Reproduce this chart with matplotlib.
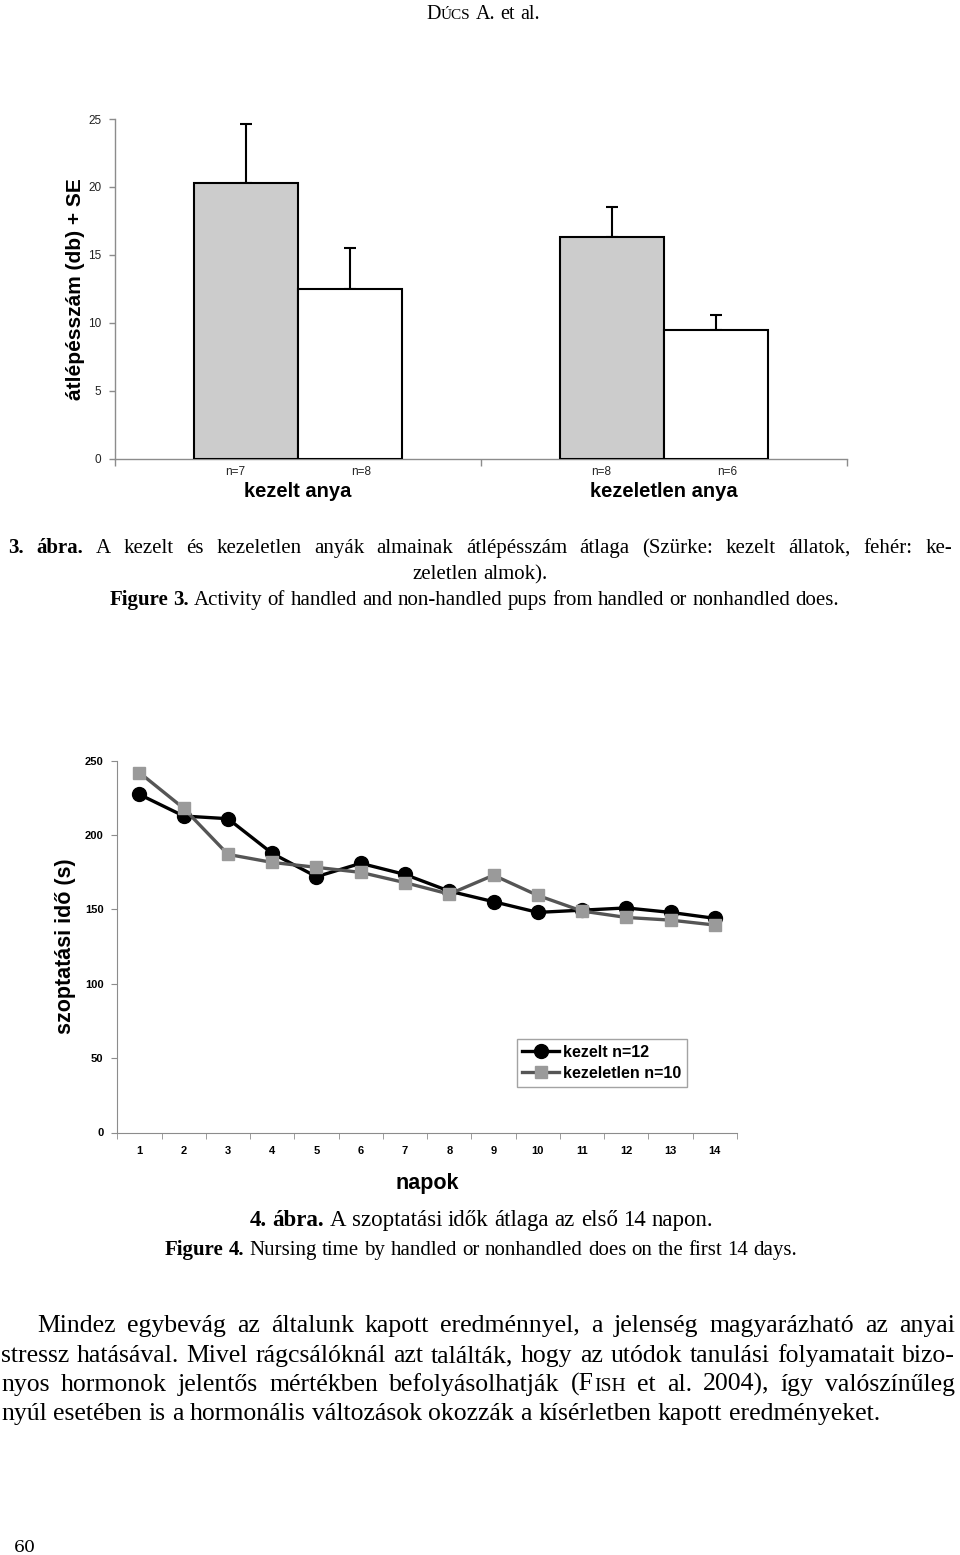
import matplotlib
matplotlib.use('Agg')
import matplotlib.pyplot as plt
import numpy as np

W, H = 960, 1555

# --- Figure 3 data (bar chart) ---
groups = ['kezelt anya', 'kezeletlen anya']
gray_mean = [20.3, 16.3]
gray_se = [4.3, 2.2]
white_mean = [12.5, 9.45]
white_se = [3.0, 1.1]
gray_n = ['n=7', 'n=8']
white_n = ['n=8', 'n=6']
yticks_bar = [0, 5, 10, 15, 20, 25]

# --- Figure 4 data (line chart) ---
days = [1, 2, 3, 4, 5, 6, 7, 8, 9, 10, 11, 12, 13, 14]
kezelt = [227.3, 212.8, 211.0, 187.7, 172.0, 181.0, 173.5, 162.3, 155.2, 148.0, 149.5, 151.0, 148.0, 144.0]
kezeletlen = [242.0, 218.0, 187.0, 181.6, 178.3, 174.9, 168.0, 160.3, 173.0, 159.4, 148.9, 144.6, 142.8, 139.5]
yticks_line = [0, 50, 100, 150, 200, 250]

SERIF = 'Liberation Serif'
SANS = 'Liberation Sans'
AXGRAY = '#8c8c8c'

fig = plt.figure(figsize=(W / 100, H / 100), dpi=100)


def px_axes(left, top, right, bottom):
    # axes box given in page pixels
    return fig.add_axes([left / W, 1 - bottom / H, (right - left) / W, (bottom - top) / H])


def split_tokens(segs):
    toks = []
    for text, weight, size in segs:
        pieces = text.split(' ')
        for i, p in enumerate(pieces):
            if p == '':
                continue
            toks.append((p, weight, size, i > 0 or not toks))
    return toks


def text_line(segs, y, x0, x1, mode='justify', family=SERIF):
    r = fig.canvas.get_renderer()
    toks = split_tokens(segs)
    arts = [fig.text(0, 1 - y / H, t[0], fontsize=t[2], fontweight=t[1], family=family,
                     va='baseline', ha='left') for t in toks]
    widths = [a.get_window_extent(r).width for a in arts]
    ngaps = sum(1 for t in toks[1:] if t[3])
    space = 0.25 * toks[0][2] * 100 / 72
    if mode == 'justify' and ngaps:
        gap = (x1 - x0 - sum(widths)) / ngaps
        x = x0
    else:
        gap = space
        total = sum(widths) + ngaps * gap
        x = (x0 + x1) / 2 - total / 2 if mode == 'center' else x0
    for i, (a, w, t) in enumerate(zip(arts, widths, toks)):
        if i > 0 and t[3]:
            x += gap
        a.set_x(x / W)
        x += w


# ---------------- Figure 3: bar chart ----------------
ax1 = px_axes(115, 119, 847, 458.7)
xg = np.arange(len(groups))
bw = 0.285
ax1.bar(xg - bw / 2, gray_mean, bw, color='#cccccc', edgecolor='black', linewidth=1.5, zorder=3)
ax1.bar(xg + bw / 2, white_mean, bw, color='white', edgecolor='black', linewidth=1.5, zorder=3)
ax1.errorbar(xg - bw / 2, gray_mean, yerr=[np.zeros(len(xg)), gray_se], fmt='none',
             ecolor='black', elinewidth=1.5, capsize=4, capthick=1.5, zorder=2)
ax1.errorbar(xg + bw / 2, white_mean, yerr=[np.zeros(len(xg)), white_se], fmt='none',
             ecolor='black', elinewidth=1.5, capsize=4, capthick=1.5, zorder=2)
ax1.set_xlim(-0.5, len(groups) - 0.5)
ax1.set_ylim(0, 25)
ax1.set_yticks(yticks_bar)
ax1.set_yticklabels([str(v) for v in yticks_bar], fontsize=8.5, family=SANS, color='#222222')
ax1.set_xticks(np.arange(-0.5, len(groups)), minor=True)
ax1.set_xticks([])
ax1.tick_params(axis='y', direction='out', length=4, color=AXGRAY, width=1, pad=6)
ax1.tick_params(axis='x', which='minor', direction='out', length=5, color=AXGRAY, width=1)
for s in ['top', 'right']:
    ax1.spines[s].set_visible(False)
for s in ['left', 'bottom']:
    ax1.spines[s].set_color(AXGRAY)
    ax1.spines[s].set_linewidth(1)
ax1.set_ylabel('átlépésszám (db) + SE', fontsize=15, fontweight='bold', family=SANS, labelpad=2)
for i in range(len(groups)):
    ax1.annotate(gray_n[i], (xg[i] - bw / 2 - 0.03, 0), xycoords=('data', 'axes fraction'),
                 xytext=(0, -5), textcoords='offset points', ha='center', va='top',
                 fontsize=8.5, family=SANS, color='#222222')
    ax1.annotate(white_n[i], (xg[i] + bw / 2 + 0.03, 0), xycoords=('data', 'axes fraction'),
                 xytext=(0, -5), textcoords='offset points', ha='center', va='top',
                 fontsize=8.5, family=SANS, color='#222222')
    ax1.annotate(groups[i], (xg[i], 0), xycoords=('data', 'axes fraction'),
                 xytext=(0, -17), textcoords='offset points', ha='center', va='top',
                 fontsize=14.5, fontweight='bold', family=SANS)

# ---------------- Figure 4: line chart ----------------
ax2 = px_axes(117.3, 760.7, 737, 1132.5)
ax2.plot(days, kezelt, color='black', linewidth=2.4, marker='o', markersize=10,
         markerfacecolor='black', markeredgecolor='black', label='kezelt n=12', zorder=3)
ax2.plot(days, kezeletlen, color='#555555', linewidth=2.4, marker='s', markersize=9,
         markerfacecolor='#9a9a9a', markeredgecolor='#9a9a9a', label='kezeletlen n=10', zorder=3)
ax2.set_xlim(days[0] - 0.5, days[-1] + 0.5)
ax2.set_ylim(0, 250)
ax2.set_yticks(yticks_line)
ax2.set_yticklabels([str(v) for v in yticks_line], fontsize=8, fontweight='bold', family=SANS)
ax2.set_xticks(days)
ax2.set_xticklabels([str(d) for d in days], fontsize=8, fontweight='bold', family=SANS)
ax2.set_xticks(np.arange(days[0] - 0.5, days[-1] + 1), minor=True)
ax2.tick_params(axis='x', which='major', length=0, pad=10)
ax2.tick_params(axis='x', which='minor', direction='out', length=4, color=AXGRAY)
ax2.tick_params(axis='y', direction='out', length=4, color=AXGRAY, pad=6)
for s in ['top', 'right']:
    ax2.spines[s].set_visible(False)
for s in ['left', 'bottom']:
    ax2.spines[s].set_color(AXGRAY)
ax2.set_ylabel('szoptatási idő (s)', fontsize=15.5, fontweight='bold', family=SANS, labelpad=6)
ax2.set_xlabel('napok', fontsize=15.5, fontweight='bold', family=SANS, labelpad=12)
leg = ax2.legend(loc='upper left', bbox_to_anchor=(0.6445, 0.2515), borderaxespad=0,
                 frameon=True, fancybox=False, edgecolor=AXGRAY, handlelength=2.3,
                 handletextpad=0.25, borderpad=0.35, labelspacing=0.4,
                 prop={'family': SANS, 'weight': 'bold', 'size': 11.5})
leg.get_frame().set_linewidth(1)

# ---------------- page text ----------------
text_line([('D', 'normal', 14.5), ('ÚCS', 'normal', 11), (' A. et al.', 'normal', 14.5)], 19, 0, 966, 'center')

cap = 15
text_line([('3. ábra.', 'bold', cap),
           (' A kezelt és kezeletlen anyák almainak átlépésszám átlaga (Szürke: kezelt állatok, fehér:  ke-', 'normal', cap)],
          553, 8, 952, 'justify')
text_line([('zeletlen almok).', 'normal', cap)], 579, 0, W, 'center')
text_line([('Figure 3.', 'bold', cap),
           (' Activity of handled and non-handled pups from handled or nonhandled does.', 'normal', cap)],
          605, 0, 948, 'center')

text_line([('4. ábra.', 'bold', 16.5), (' A szoptatási idők átlaga az első 14 napon.', 'normal', 16.5)],
          1226, 0, 963, 'center')
text_line([('Figure 4.', 'bold', cap),
           (' Nursing time by handled or nonhandled does on the first 14 days.', 'normal', cap)],
          1255, 0, 962, 'center')

body = 18.5
text_line([('Mindez egybevág az általunk kapott eredménnyel, a jelenség magyarázható az anyai', 'normal', body)],
          1332, 37, 955, 'justify')
text_line([('stressz hatásával. Mivel rágcsálóknál azt találták, hogy az utódok tanulási folyamatait bizo-', 'normal', body)],
          1362, 1, 955, 'justify')
text_line([('nyos hormonok jelentős mértékben befolyásolhatják (F', 'normal', body), ('ISH', 'normal', 14),
           (' et al. 2004), így valószínűleg', 'normal', body)],
          1391, 1, 955, 'justify')
text_line([('nyúl esetében is a hormonális változások okozzák a kísérletben kapott eredményeket.', 'normal', body)],
          1420, 1, 955, 'left')

text_line([('60', 'normal', 12.5)], 1552, 14, 60, 'left', family='DejaVu Serif')

fig.savefig('out.png', dpi=100)
